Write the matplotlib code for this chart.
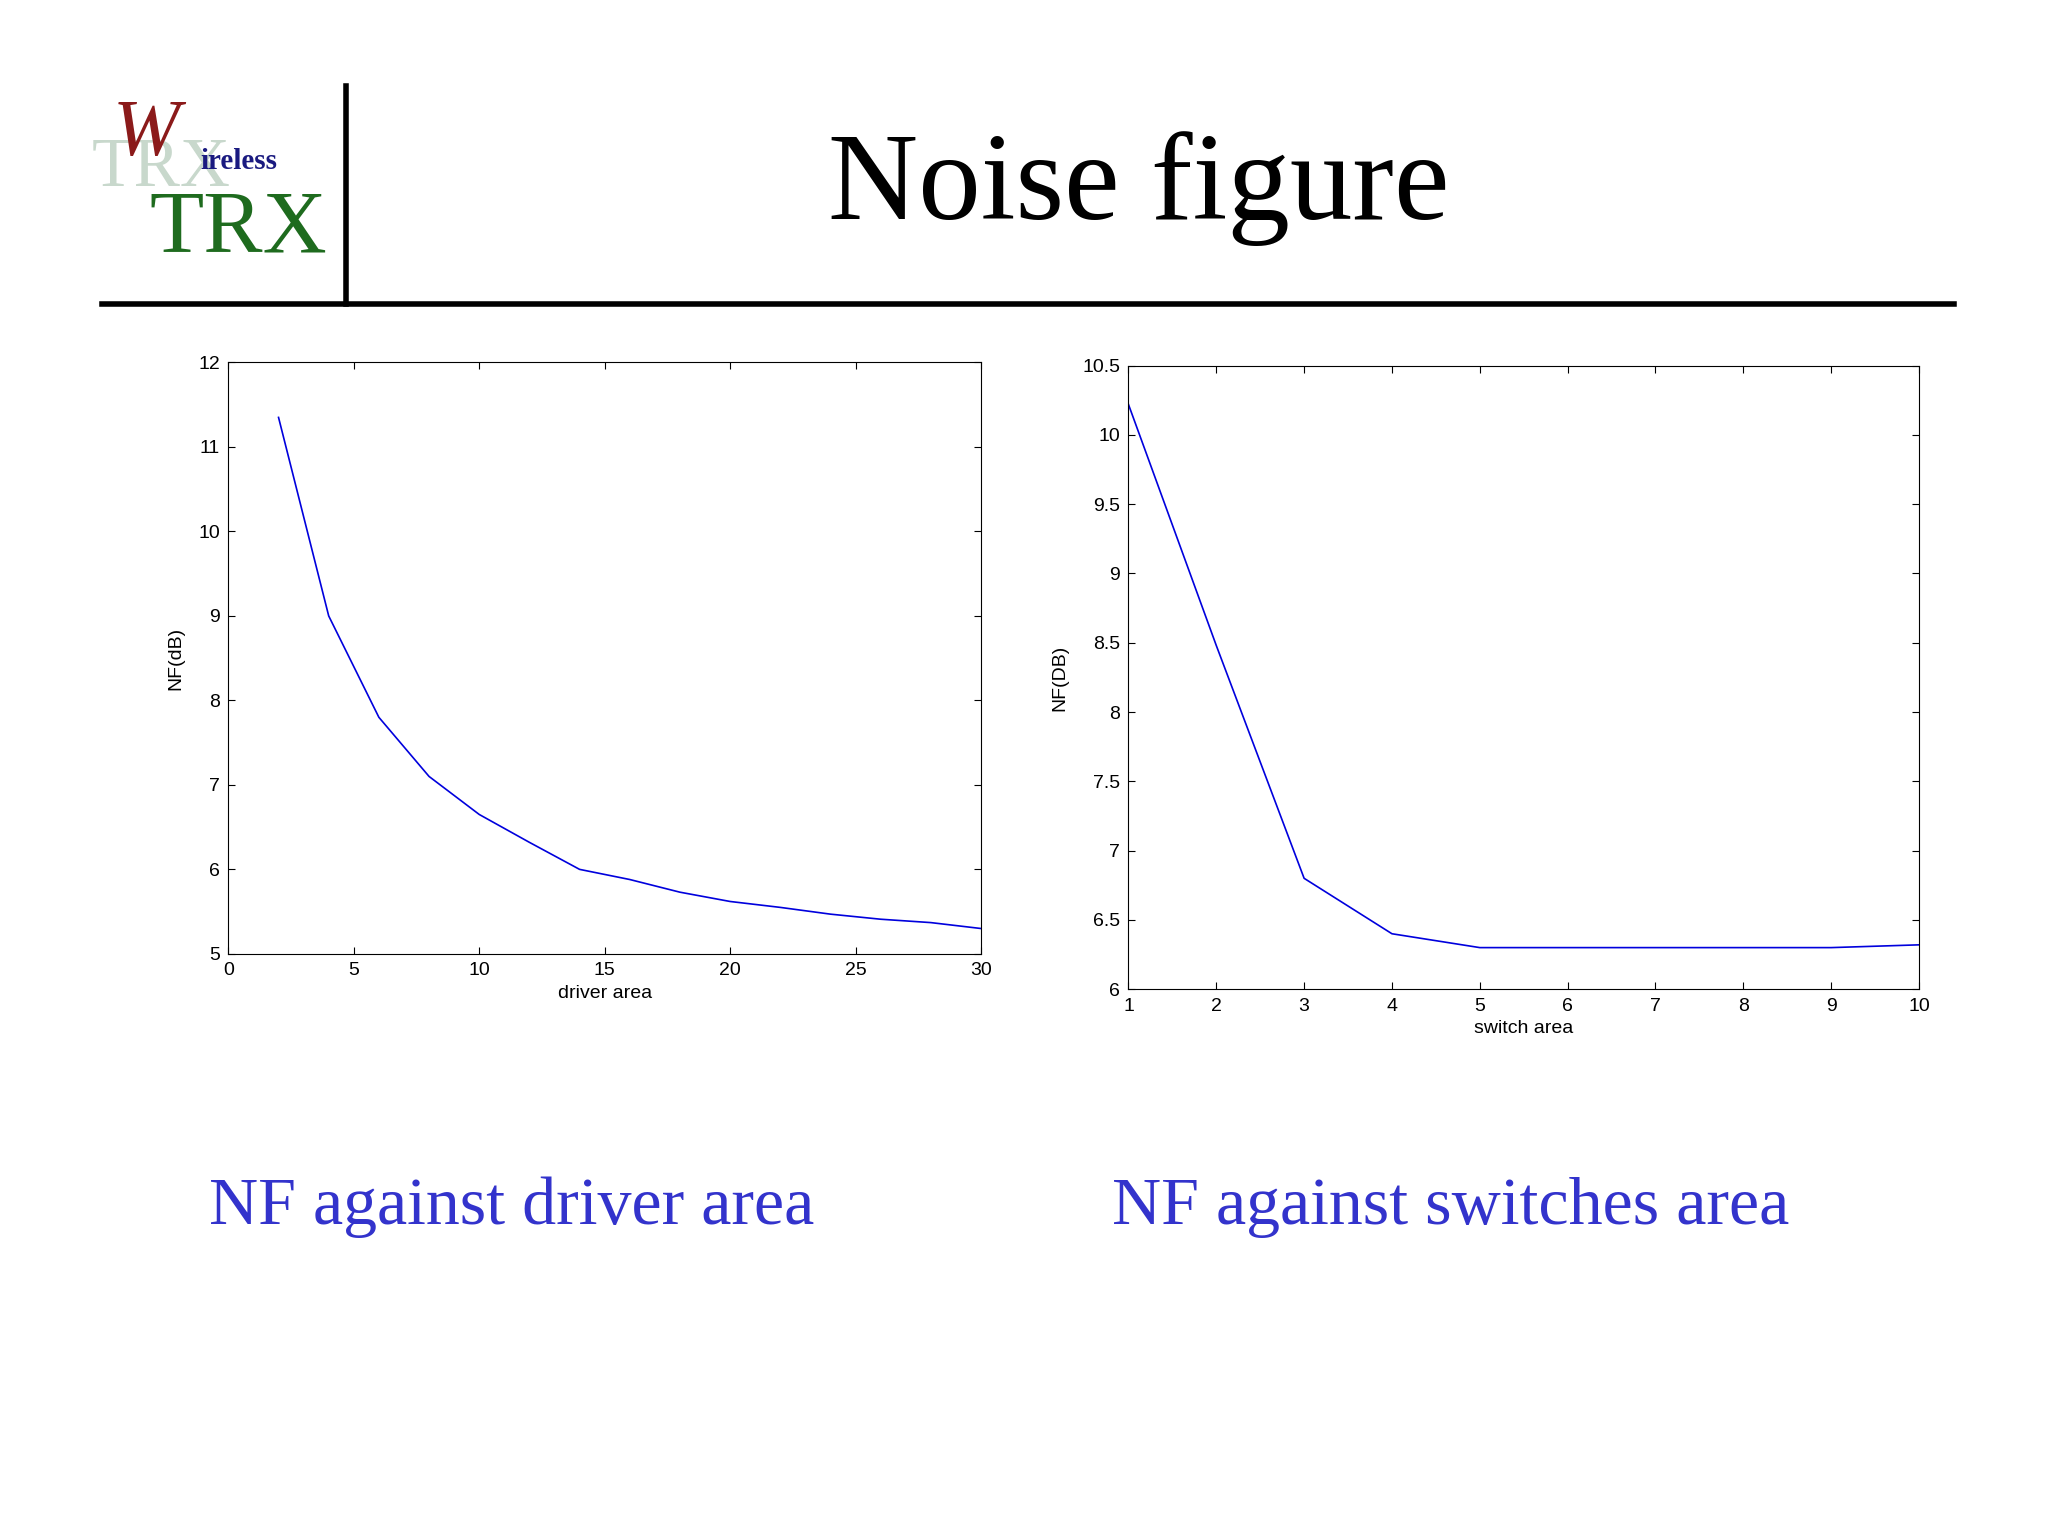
import matplotlib
matplotlib.use("Agg")
import matplotlib.pyplot as plt
from matplotlib.lines import Line2D

driver_x = [2, 4, 6, 8, 10, 12, 14, 16, 18, 20, 22, 24, 26, 28, 30]
driver_nf = [11.35, 9.0, 7.8, 7.1, 6.65, 6.32, 6.0, 5.88, 5.73, 5.62, 5.55, 5.47, 5.41, 5.37, 5.3]
switch_x = [1, 2, 3, 4, 5, 6, 7, 8, 9, 10]
switch_nf = [10.22, 8.48, 6.8, 6.4, 6.3, 6.3, 6.3, 6.3, 6.3, 6.32]

fig = plt.figure(figsize=(20.48, 15.36), dpi=100)
serif = "Liberation Serif"
sans = "Liberation Sans"

fig.text(0.556, 0.877, "Noise figure", ha="center", va="center", fontsize=90, family=serif)
fig.add_artist(Line2D([0.05, 0.954], [0.802, 0.802], color="black", lw=4))
fig.add_artist(Line2D([0.169, 0.169], [0.802, 0.944], color="black", lw=4))
# logo
fig.text(0.045, 0.89, "TRX", fontsize=50, family=serif, color="#c8d8cc", ha="left", va="center")
fig.text(0.073, 0.85, "TRX", fontsize=64, family=serif, color="#1e6b1e", ha="left", va="center")
fig.text(0.055, 0.912, "W", fontsize=58, family=serif, color="#8b1a1a", style="italic", ha="left", va="center")
fig.text(0.098, 0.895, "ireless", fontsize=21, family=serif, color="#1a1a80", weight="bold", ha="left", va="center")

def setup(ax):
    ax.tick_params(direction="in", top=True, right=True, labelsize=14, length=5, pad=6)
    for lab in ax.get_xticklabels() + ax.get_yticklabels():
        lab.set_family(sans)

ax1 = fig.add_axes([0.1115, 0.379, 0.3675, 0.385])
ax1.plot(driver_x, driver_nf, color="#0000dd", lw=1.2)
ax1.set_xlim(0, 30); ax1.set_ylim(5, 12)
ax1.set_xticks(range(0, 31, 5)); ax1.set_yticks(range(5, 13))
ax1.set_xlabel("driver area", fontsize=14, family=sans, labelpad=4)
ax1.set_ylabel("NF(dB)", fontsize=14, family=sans, labelpad=10)
setup(ax1)

ax2 = fig.add_axes([0.551, 0.356, 0.386, 0.406])
ax2.plot(switch_x, switch_nf, color="#0000dd", lw=1.2)
ax2.set_xlim(1, 10); ax2.set_ylim(6, 10.5)
ax2.set_xticks(range(1, 11))
ax2.set_yticks([6, 6.5, 7, 7.5, 8, 8.5, 9, 9.5, 10, 10.5])
ax2.set_yticklabels(["6", "6.5", "7", "7.5", "8", "8.5", "9", "9.5", "10", "10.5"])
ax2.set_xlabel("switch area", fontsize=14, family=sans, labelpad=4)
ax2.set_ylabel("NF(DB)", fontsize=14, family=sans, labelpad=10)
setup(ax2)

fig.text(0.102, 0.214, "NF against driver area", fontsize=49, family=serif, color="#3333cc", va="center")
fig.text(0.543, 0.214, "NF against switches area", fontsize=49, family=serif, color="#3333cc", va="center")

fig.savefig("out.png", dpi=100)
